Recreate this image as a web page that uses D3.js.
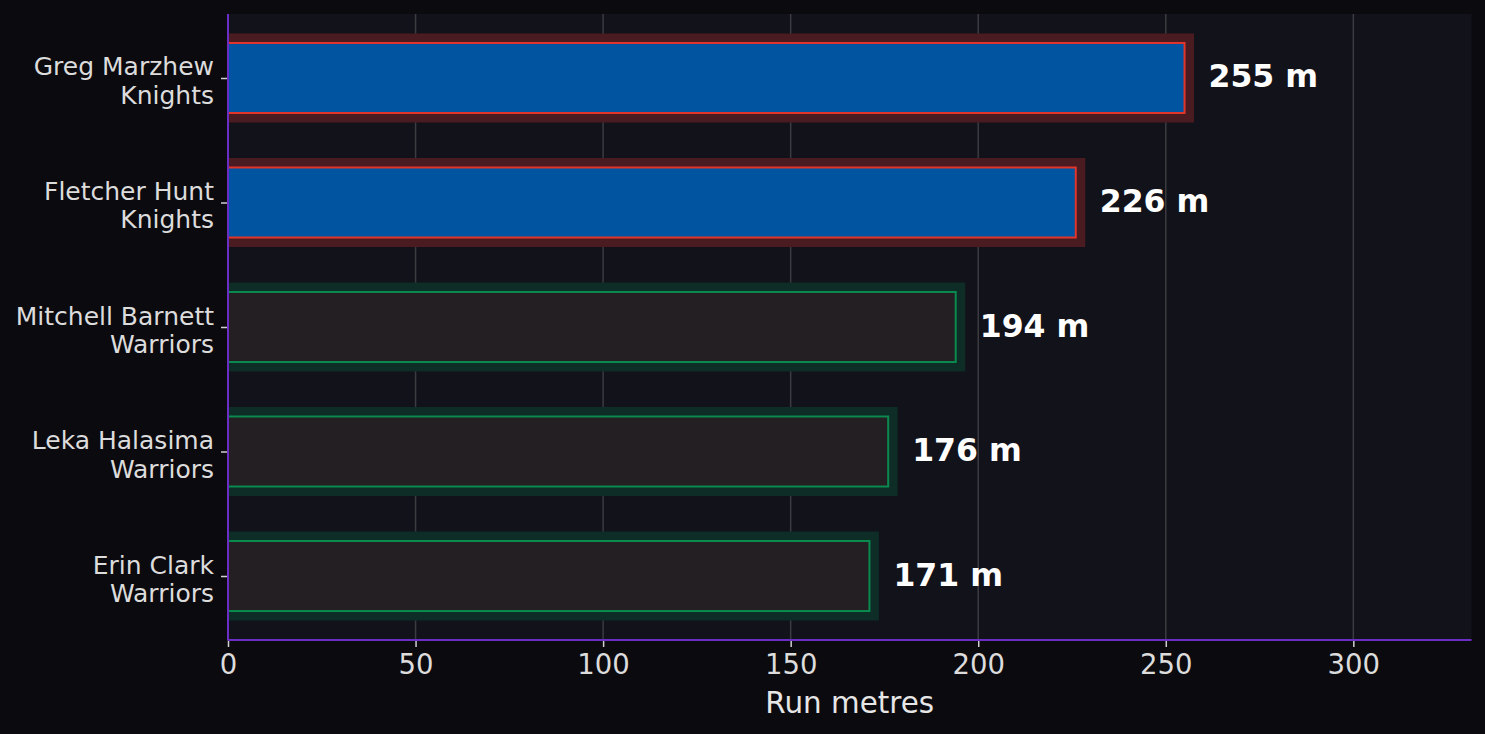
<!DOCTYPE html>
<html>
<head>
<meta charset="utf-8">
<script src="https://cdn.jsdelivr.net/npm/d3@7"></script>
<style>
  html, body { margin: 0; padding: 0; background: #0b0a0f; }
  svg { display: block; font-family: "DejaVu Sans", sans-serif; }
</style>
</head>
<body>
<svg id="chart" width="1485" height="734"></svg>
<script>
/*--- Data ---*/
const players = ["Greg Marzhew", "Fletcher Hunt", "Mitchell Barnett", "Leka Halasima", "Erin Clark"];
const teams = ["Knights", "Knights", "Warriors", "Warriors", "Warriors"];
const runMetres = [255, 226, 194, 176, 171];
const xTicks = [0, 50, 100, 150, 200, 250, 300];

/*--- Team styling ---*/
const teamStyle = {
    Knights:  { fill: "#0054a0", stroke: "#e2352b", glow: "#4a1b20" },
    Warriors: { fill: "#231f22", stroke: "#0b8a4f", glow: "#0e2d27" }
};

/*--- Layout ---*/
const svg = d3.select("#chart");
const W = 1485, H = 734;
const margin = { left: 228, right: 13.5, top: 14, bottom: 94 };
const plotW = W - margin.left - margin.right;
const plotH = H - margin.top - margin.bottom;

const x = d3.scaleLinear()
    .domain([0, d3.max(runMetres) * 1.3])
    .range([0, plotW]);

const y = d3.scalePoint()
    .domain(d3.range(players.length))
    .range([0, plotH])
    .padding(0.514);

const step = y.step();
const barH = step * 0.5625;
const glowPad = 9.5;

const g = svg.append("g")
    .attr("transform", `translate(${margin.left},${margin.top})`);

// plot background
g.append("rect")
    .attr("width", plotW)
    .attr("height", plotH)
    .attr("fill", "#12121a");

// vertical gridlines
g.selectAll("line.grid")
    .data(xTicks.filter(d => d > 0))
    .join("line")
    .attr("class", "grid")
    .attr("x1", d => x(d)).attr("x2", d => x(d))
    .attr("y1", 0).attr("y2", plotH)
    .attr("stroke", "#3b3b41")
    .attr("stroke-width", 1.5);

const rows = g.selectAll("g.row")
    .data(runMetres)
    .join("g")
    .attr("class", "row")
    .attr("transform", (d, i) => `translate(0,${y(i)})`);

// glow behind each bar
rows.append("rect")
    .attr("x", 0)
    .attr("y", -barH / 2 - glowPad)
    .attr("width", d => x(d) + glowPad)
    .attr("height", barH + glowPad * 2)
    .attr("fill", (d, i) => teamStyle[teams[i]].glow);

// the bar itself
rows.append("rect")
    .attr("x", 0)
    .attr("y", -barH / 2)
    .attr("width", d => x(d))
    .attr("height", barH)
    .attr("fill", (d, i) => teamStyle[teams[i]].fill)
    .attr("stroke", (d, i) => teamStyle[teams[i]].stroke)
    .attr("stroke-width", 2);

// value labels
rows.append("text")
    .attr("x", d => x(d) + 24)
    .attr("y", 9.5)
    .attr("fill", "#ffffff")
    .attr("font-size", 31.5)
    .attr("font-weight", "bold")
    .text(d => `${d} m`);

/*--- Axes ---*/
const xAxis = g.append("g")
    .attr("transform", `translate(0,${plotH})`)
    .call(d3.axisBottom(x).tickValues(xTicks).tickSize(7).tickPadding(7));
xAxis.select(".domain").remove();
xAxis.selectAll(".tick line").attr("stroke", "#d0d0d0").attr("stroke-width", 1.5);
xAxis.selectAll(".tick text")
    .attr("fill", "#dcdcdc")
    .attr("font-size", 27.5)
    .attr("font-family", "DejaVu Sans");

const yAxis = g.append("g")
    .call(d3.axisLeft(y).tickSize(7).tickFormat(""));
yAxis.select(".domain").remove();
yAxis.selectAll(".tick line").attr("stroke", "#d0d0d0").attr("stroke-width", 1.5);

// two-line y tick labels: player / team
yAxis.selectAll(".tick").each(function (i) {
    const t = d3.select(this).select("text")
        .attr("x", -14)
        .attr("y", 0)
        .attr("dy", null)
        .attr("fill", "#dcdcdc")
        .attr("font-size", 25)
        .attr("font-family", "DejaVu Sans")
        .attr("text-anchor", "end");
    t.append("tspan").attr("x", -14).attr("y", -3).text(players[i]);
    t.append("tspan").attr("x", -14).attr("y", 25.5).text(teams[i]);
});

// spines: left and bottom only
g.append("line")
    .attr("x1", 0).attr("x2", 0)
    .attr("y1", 0).attr("y2", plotH)
    .attr("stroke", "#6a2ec6").attr("stroke-width", 2);
g.append("line")
    .attr("x1", 0).attr("x2", plotW)
    .attr("y1", plotH).attr("y2", plotH)
    .attr("stroke", "#6a2ec6").attr("stroke-width", 2);

// axis title
g.append("text")
    .attr("x", plotW / 2)
    .attr("y", plotH + 72.5)
    .attr("text-anchor", "middle")
    .attr("fill", "#e6e6e6")
    .attr("font-size", 29.4)
    .text("Run metres");
</script>
</body>
</html>
